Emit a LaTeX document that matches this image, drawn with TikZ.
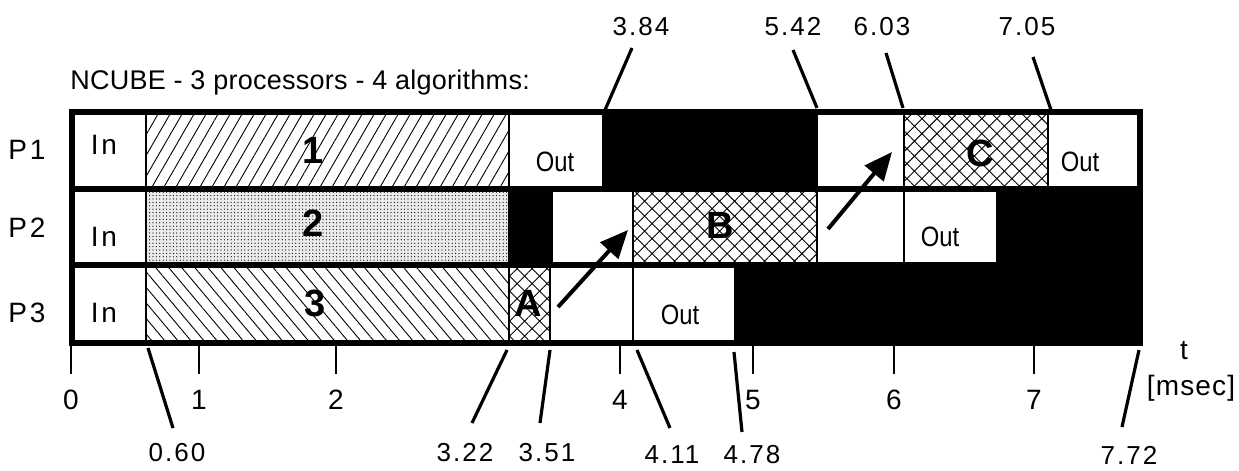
\documentclass[tikz,border=0pt]{standalone}
\usepackage{fontspec}
\setmainfont{Liberation Sans}
\newfontfamily\valfont[LetterSpace=8]{Liberation Sans}
\newfontfamily\spfont[LetterSpace=10]{Liberation Sans}
\newfontfamily\msfont[LetterSpace=4]{Liberation Sans}
\newfontfamily\tifont[LetterSpace=1]{Liberation Sans}
\newfontfamily\outfont[FakeStretch=0.85]{Liberation Sans}
\usetikzlibrary{patterns.meta,arrows.meta}
\tikzset{
  frame/.style={line width=3pt},
  cellline/.style={line width=0.9pt},
  valline/.style={line width=1.6pt},
  tickline/.style={line width=0.9pt},
  bigarrow/.style={line width=2pt,-{Triangle[length=14pt,width=12pt]}},
  hatchA/.style={pattern={Lines[angle=60,distance=5.2pt,line width=0.45pt]}},
  hatchB/.style={pattern={Lines[angle=-50,distance=5pt,line width=0.45pt]}},
  cross/.style={pattern={Hatch[angle=45,distance=5.3pt,line width=0.45pt]}},
  stipple/.style={pattern={Dots[distance=1.7pt,radius=0.32pt]}},
  vallbl/.style={inner sep=0pt,font=\valfont\fontsize{13pt}{15pt}\selectfont},
  ticklbl/.style={inner sep=0pt,font=\fontsize{14pt}{16pt}\selectfont},
  plbl/.style={inner sep=0pt,font=\spfont\fontsize{14pt}{16pt}\selectfont},
  mslbl/.style={inner sep=0pt,font=\msfont\fontsize{14pt}{16pt}\selectfont},
  outlbl/.style={inner sep=0pt,font=\outfont\fontsize{14pt}{16pt}\selectfont},
  biglbl/.style={inner sep=0pt,font=\bfseries\fontsize{19pt}{22pt}\selectfont},
  titlelbl/.style={inner sep=0pt,font=\tifont\fontsize{13.5pt}{16pt}\selectfont}
}
\begin{document}
\begin{tikzpicture}[x=0.5pt,y=-0.5pt]
\useasboundingbox (0,0) rectangle (1239,471);
\fill[white] (0,0) rectangle (1239,471);

% ---- cell fills ----
% P1
\fill[hatchA] (146,112) rectangle (509,189);
\fill[black] (602,112) rectangle (817,189);
\fill[cross] (904,112) rectangle (1048,189);
% P2
\fill[black!8] (146,189) rectangle (509,265);
\fill[stipple] (146,189) rectangle (509,265);
\fill[black] (509,189) rectangle (552,265);
\fill[cross] (633,189) rectangle (817,265);
\fill[black] (997,189) rectangle (1139,265);
% P3
\fill[hatchB] (146,265) rectangle (509,343);
\fill[cross] (509,265) rectangle (550,343);
\fill[black] (735,265) rectangle (1139,343);

% ---- thin cell boundaries ----
\draw[cellline] (146,112) -- (146,343);
\draw[cellline] (509,112) -- (509,343);
\draw[cellline] (817,112) -- (817,265);
\draw[cellline] (904,112) -- (904,265);
\draw[cellline] (1048,112) -- (1048,189);
\draw[cellline] (552,189) -- (552,265);
\draw[cellline] (633,189) -- (633,343);
\draw[cellline] (550,265) -- (550,343);
\draw[cellline] (997,189) -- (997,265);
\draw[cellline] (735,265) -- (735,343);

% ---- thick frame ----
\draw[frame] (72,112) rectangle (1139.5,343);
\draw[frame] (72,189) -- (1139.5,189);
\draw[frame] (72,265) -- (1139.5,265);

% ---- title ----
\node[titlelbl,anchor=base west] (title) at (70,90) {NCUBE - 3 processors - 4 algorithms:};

% ---- processor labels ----
\node[plbl] (p1) at (27,150) {P1};
\node[plbl] (p2) at (27,228) {P2};
\node[plbl] (p3) at (27,313) {P3};

% ---- cell texts ----
\node[plbl] (in1) at (104,145) {In};
\node[plbl] (in2) at (104,237) {In};
\node[plbl] (in3) at (104,313) {In};
\node[outlbl] (out1) at (555,162) {Out};
\node[outlbl] (out2) at (1080,162) {Out};
\node[outlbl] (out3) at (940,237) {Out};
\node[outlbl] (out4) at (680,315) {Out};
\node[biglbl] (n1) at (313,150) {1};
\node[biglbl] (n2) at (313,223) {2};
\node[biglbl] (n3) at (315,303) {3};
\node[biglbl] (nA) at (528,303) {A};
\node[biglbl] (nB) at (720,225) {B};
\node[biglbl] (nC) at (980,153) {C};

% ---- arrows ----
\coordinate (a1s) at (558,307);
\coordinate (a1e) at (628,230);
\coordinate (a2s) at (828,229);
\coordinate (a2e) at (892,152);
\draw[bigarrow] (a1s) -- (a1e);
\draw[bigarrow] (a2s) -- (a2e);

% ---- top value labels ----
\node[vallbl] (v384) at (641,27) {3.84};
\node[vallbl] (v542) at (793,27) {5.42};
\node[vallbl] (v603) at (882,27) {6.03};
\node[vallbl] (v705) at (1027,27) {7.05};
\coordinate (t384a) at (632,48);  \coordinate (t384b) at (605,110);
\coordinate (t542a) at (793,50);  \coordinate (t542b) at (817,108);
\coordinate (t603a) at (886,53);  \coordinate (t603b) at (903,108);
\coordinate (t705a) at (1033,57); \coordinate (t705b) at (1051,110);
\draw[valline] (t384a) -- (t384b);
\draw[valline] (t542a) -- (t542b);
\draw[valline] (t603a) -- (t603b);
\draw[valline] (t705a) -- (t705b);

% ---- bottom value labels ----
\node[vallbl] (v060) at (177,453) {0.60};
\node[vallbl] (v322) at (465,453) {3.22};
\node[vallbl] (v351) at (547,453) {3.51};
\node[vallbl] (v411) at (672,455) {4.11};
\node[vallbl] (v478) at (752,455) {4.78};
\node[vallbl] (v772) at (1129,455) {7.72};
\coordinate (b060a) at (148,348);  \coordinate (b060b) at (173,428);
\coordinate (b322a) at (507,350);  \coordinate (b322b) at (472,423);
\coordinate (b351a) at (550,350);  \coordinate (b351b) at (540,423);
\coordinate (b411a) at (637,350);  \coordinate (b411b) at (670,428);
\coordinate (b478a) at (734,352);  \coordinate (b478b) at (742,432);
\coordinate (b772a) at (1139,350); \coordinate (b772b) at (1122,427);
\draw[valline] (b060a) -- (b060b);
\draw[valline] (b322a) -- (b322b);
\draw[valline] (b351a) -- (b351b);
\draw[valline] (b411a) -- (b411b);
\draw[valline] (b478a) -- (b478b);
\draw[valline] (b772a) -- (b772b);

% ---- axis ticks ----
\foreach \x/\l/\n in {71/0/k0,199/1/k1,336/2/k2,620/4/k4,753/5/k5,894/6/k6,1034/7/k7}{
  \draw[tickline] (\x,343) -- (\x,374);
  \node[ticklbl] (\n) at (\x,400) {\l};
}
\node[ticklbl] (tlab) at (1184,351) {t};
\node[mslbl] (msec) at (1191,388) {[msec]};
\end{tikzpicture}
\end{document}
